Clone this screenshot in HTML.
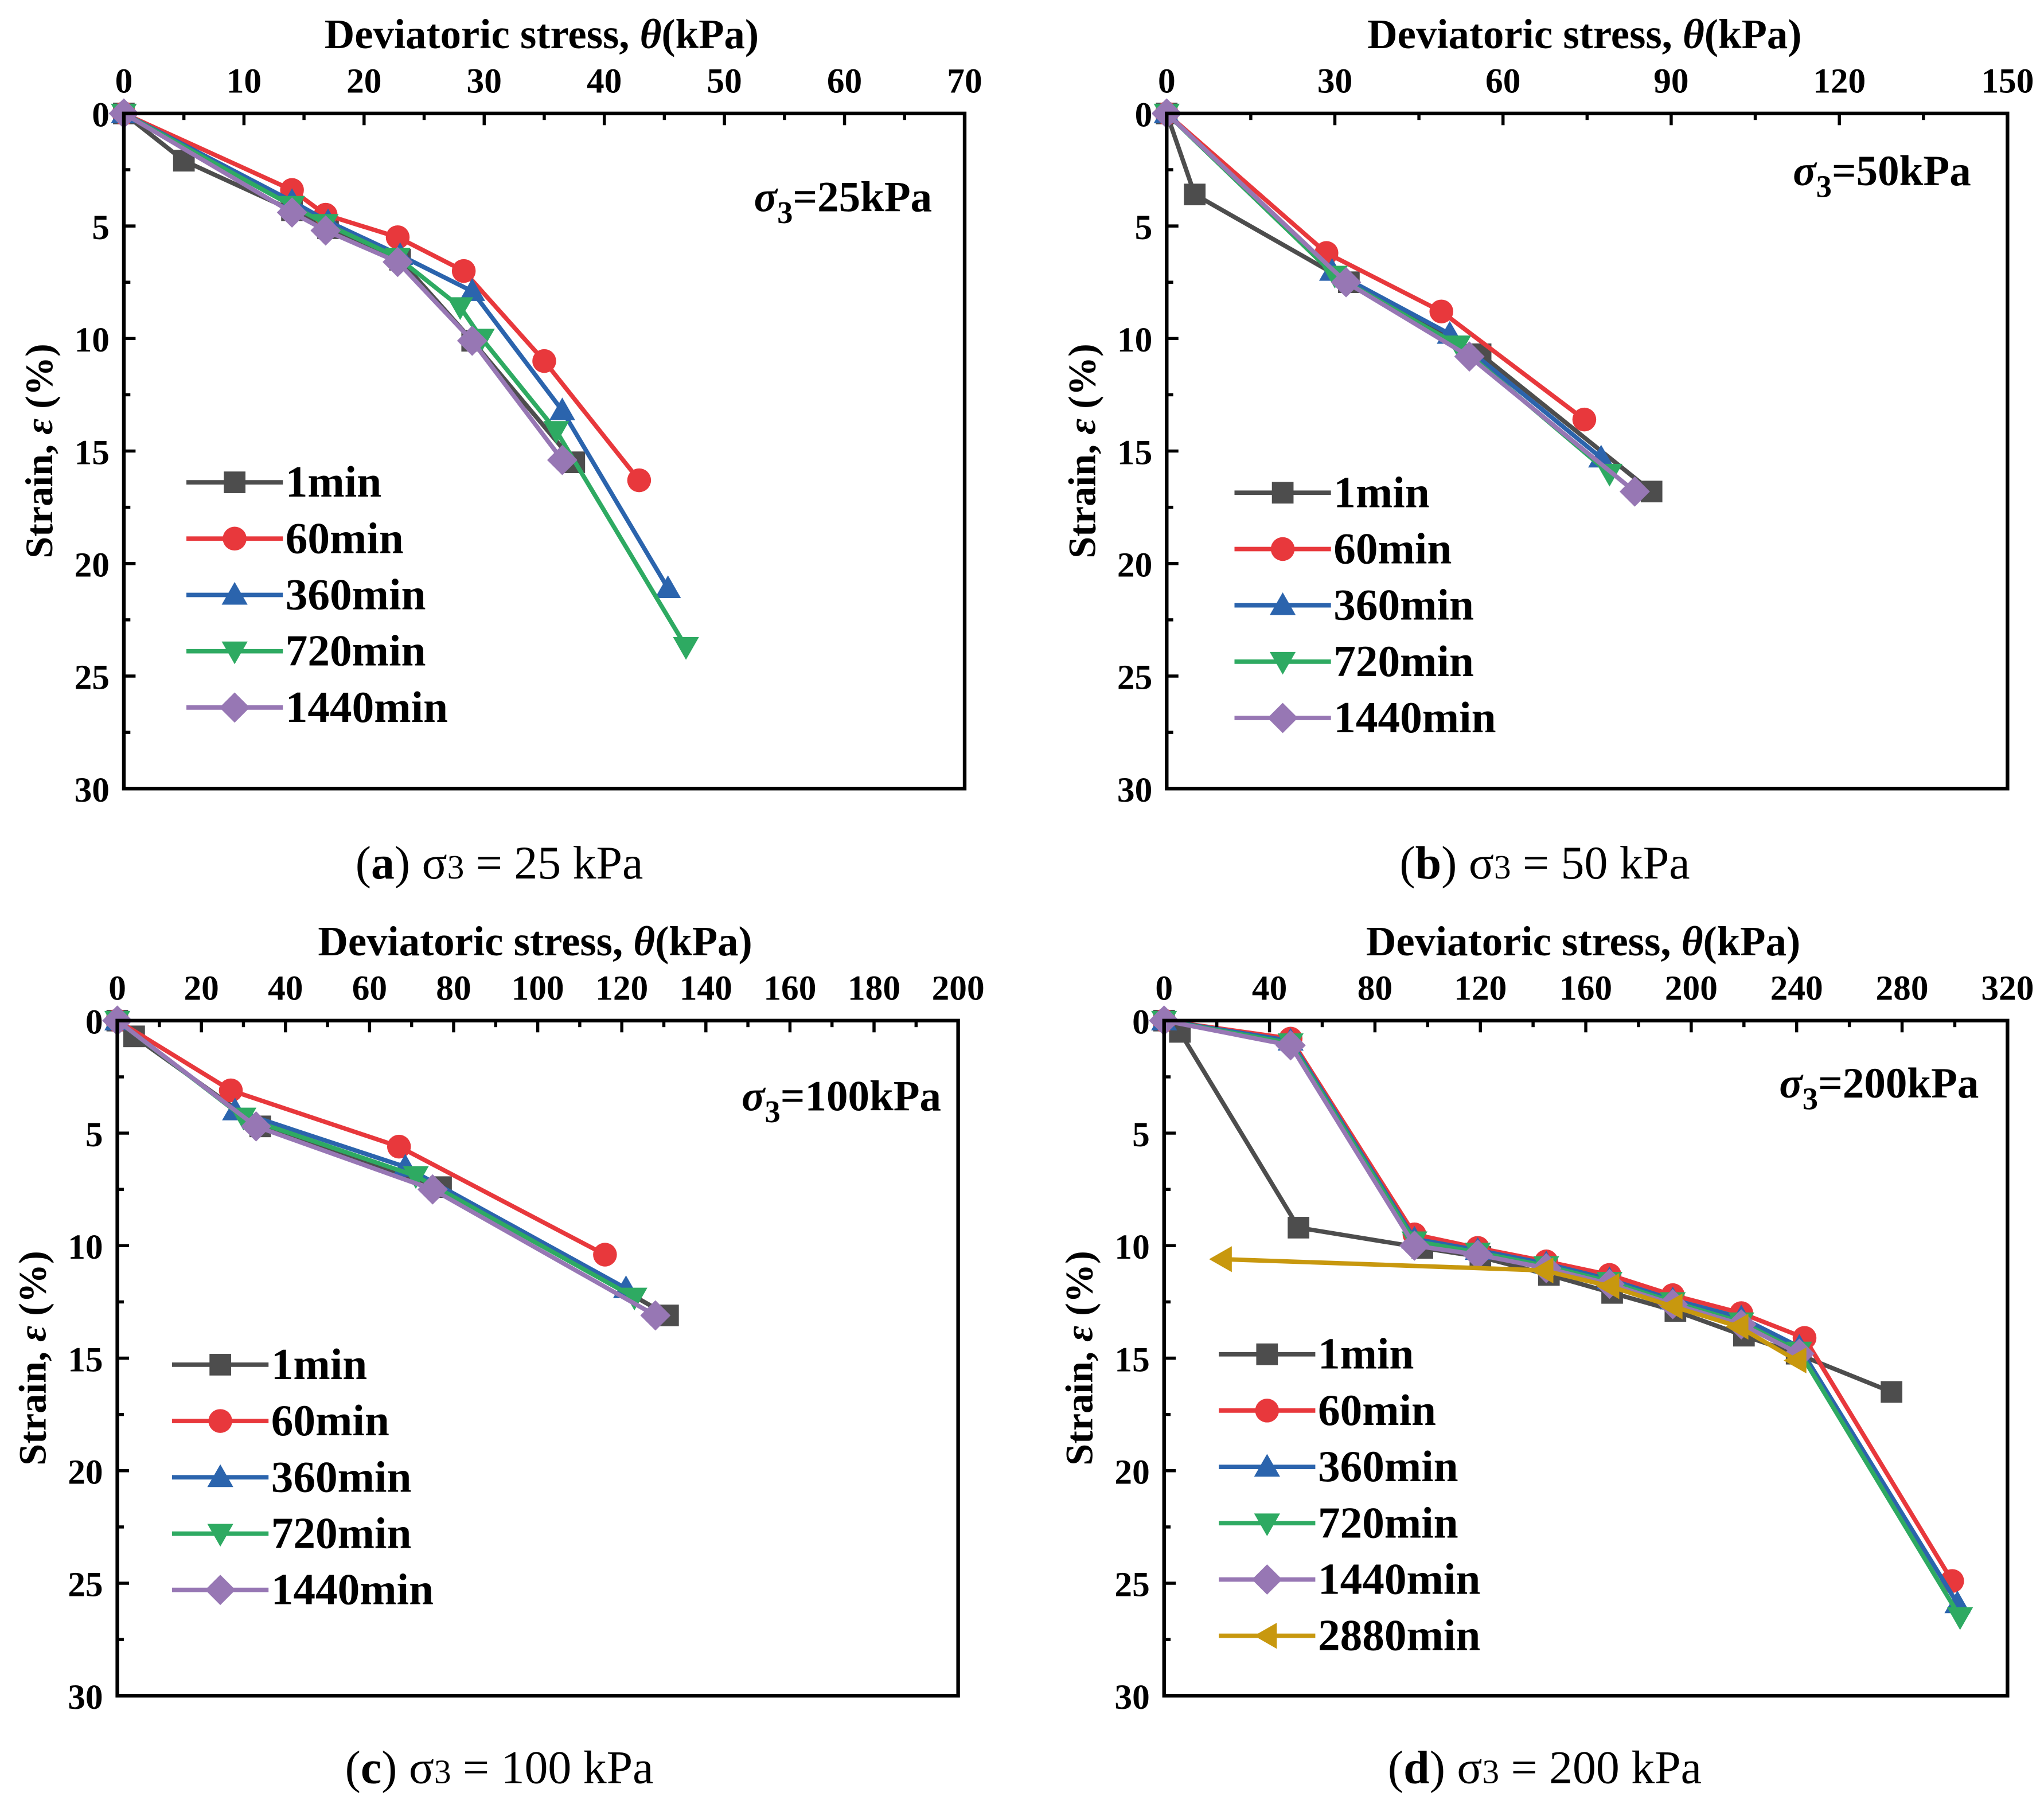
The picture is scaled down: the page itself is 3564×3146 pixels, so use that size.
<!DOCTYPE html>
<html><head><meta charset="utf-8"><style>
html,body{margin:0;padding:0;background:#fff}
svg{display:block}
text{font-family:"Liberation Serif",serif}
</style></head><body>
<svg id="fig" width="3564" height="3146" viewBox="0 0 1568 1384" xmlns="http://www.w3.org/2000/svg">
<rect width="1568" height="1384" fill="#fff"/>
</svg>
<script>
// ---- data ----
const seriesNames = ["1min","60min","360min","720min","1440min","2880min"];
const seriesColors = ["#4d4d4d","#e8383c","#2b64ad","#2eaa62","#9777b4","#c8980e"];
const seriesMarkers = ["square","circle","up","down","diamond","left"];

// panel a (sigma3 = 25 kPa)
const aStress1 = [0,5,14,17,23,29,37.5];
const aStrain1 = [0,2.1,4.3,5.1,6.5,10.1,15.5];
const aStress60 = [0,14,16.8,22.8,28.3,35,42.9];
const aStrain60 = [0,3.4,4.5,5.5,7,11,16.3];
const aStress360 = [0,14,17,23,29,36.5,45.3];
const aStrain360 = [0,3.9,4.8,6.3,7.9,13.2,21.1];
const aStress720 = [0,14,16.8,22.8,28,29.8,36,46.8];
const aStrain720 = [0,4.1,4.9,6.4,8.6,10,14.1,23.7];
const aStress1440 = [0,14,16.8,22.8,29,36.5];
const aStrain1440 = [0,4.4,5.2,6.6,10.1,15.4];

// panel b (sigma3 = 50 kPa)
const bStress1 = [0,5,32.5,56,86.5];
const bStrain1 = [0,3.6,7.5,10.7,16.8];
const bStress60 = [0,28.5,49,74.5];
const bStrain60 = [0,6.2,8.8,13.6];
const bStress360 = [0,29.5,50.5,77.5];
const bStrain360 = [0,7,9.8,15.3];
const bStress720 = [0,30,52,79];
const bStrain720 = [0,7.2,10.3,16];
const bStress1440 = [0,32,54,83.5];
const bStrain1440 = [0,7.5,10.8,16.8];

// panel c (sigma3 = 100 kPa)
const cStress1 = [0,4,34,77,131];
const cStrain1 = [0,0.7,4.7,7.4,13.1];
const cStress60 = [0,27,67,116];
const cStrain60 = [0,3.1,5.6,10.4];
const cStress360 = [0,28,68.5,121];
const cStrain360 = [0,4,6.5,11.9];
const cStress720 = [0,30,71,123];
const cStrain720 = [0,4.3,6.9,12.3];
const cStress1440 = [0,33,75,128];
const cStrain1440 = [0,4.7,7.5,13.1];

// panel d (sigma3 = 200 kPa)
const dStress1 = [0,6,51,98,120,146,170,194,220,240,276];
const dStrain1 = [0,0.5,9.2,10.1,10.5,11.3,12.1,12.9,14,14.8,16.5];
const dStress60 = [0,48,95,119,145,169,193,219,243,299];
const dStrain60 = [0,0.8,9.5,10.1,10.7,11.3,12.2,13,14.1,24.9];
const dStress360 = [0,48,95,119,145,169,193,219,241,301];
const dStrain360 = [0,0.9,9.7,10.2,10.8,11.5,12.4,13.2,14.5,25.9];
const dStress720 = [0,48,95,119,145,169,193,219,241,302];
const dStrain720 = [0,1,9.8,10.3,10.9,11.6,12.5,13.4,14.7,26.5];
const dStress1440 = [0,48,95,119,145,169,193,219,241];
const dStrain1440 = [0,1.1,10,10.4,11,11.7,12.6,13.5,14.8];
const dStress2880 = [22,144,169,193,218,240];
const dStrain2880 = [10.6,11.1,11.8,12.7,13.6,15.1];

const yTicks = [0,5,10,15,20,25,30];
const aXTicks = [0,10,20,30,40,50,60,70];
const bXTicks = [0,30,60,90,120,150];
const cXTicks = [0,20,40,60,80,100,120,140,160,180,200];
const dXTicks = [0,40,80,120,160,200,240,280,320];

// ---- drawing ----
const NS="http://www.w3.org/2000/svg";
const svg=document.getElementById('fig');
function mk(tag,attrs,parent){const e=document.createElementNS(NS,tag);for(const k in attrs)e.setAttribute(k,attrs[k]);(parent||svg).appendChild(e);return e;}

function marker(g,type,x,y,color,s){
  let e;
  if(type==="square"){e=mk('rect',{x:x-s,y:y-s,width:2*s,height:2*s,fill:color},g);}
  else if(type==="circle"){e=mk('circle',{cx:x,cy:y,r:s*1.1,fill:color},g);}
  else if(type==="up"){e=mk('polygon',{points:`${x},${y-s*1.2} ${x-s*1.2},${y+s*0.9} ${x+s*1.2},${y+s*0.9}`,fill:color},g);}
  else if(type==="down"){e=mk('polygon',{points:`${x},${y+s*1.2} ${x-s*1.2},${y-s*0.9} ${x+s*1.2},${y-s*0.9}`,fill:color},g);}
  else if(type==="diamond"){e=mk('polygon',{points:`${x},${y-s*1.4} ${x+s*1.4},${y} ${x},${y+s*1.4} ${x-s*1.4},${y}`,fill:color},g);}
  else {e=mk('polygon',{points:`${x-s*1.2},${y} ${x+s*0.9},${y-s*1.2} ${x+s*0.9},${y+s*1.2}`,fill:color},g);}
  
  
  return e;
}

function panel(cfg){
  const g=mk('g',{});
  
  
  const {x0,x1,y0,y1,xmax,xTicks}=cfg;
  const sx=v=>x0+(v/xmax)*(x1-x0);
  const sy=v=>y0+(v/30)*(y1-y0);
  cfg.series.forEach((s,i)=>{
    const idx=s.idx;
    const pts=s.xs.map((v,j)=>sx(v)+','+sy(s.ys[j])).join(' ');
    const pl=mk('polyline',{points:pts,fill:'none',stroke:seriesColors[idx],'stroke-width':3.4,'stroke-linejoin':'round'},g);
    
    
    s.xs.forEach((v,j)=>marker(g,seriesMarkers[idx],sx(v),sy(s.ys[j]),seriesColors[idx],8.3));
  });
  const fr=mk('rect',{x:x0,y:y0,width:x1-x0,height:y1-y0,fill:'none',stroke:'#000','stroke-width':2.8},g);
  
  
  const step=xTicks[1]-xTicks[0];
  xTicks.forEach((t,i)=>{
    mk('line',{x1:sx(t),y1:y0,x2:sx(t),y2:y0+9,stroke:'#000','stroke-width':2.4},g);
    if(i<xTicks.length-1){const m=t+step/2;mk('line',{x1:sx(m),y1:y0,x2:sx(m),y2:y0+5,stroke:'#000','stroke-width':2.4},g);}
    const tx=mk('text',{x:sx(t),y:y0-16,'text-anchor':'middle','font-size':27,'font-weight':'bold'},g);
    tx.textContent=t;
    
    
  });
  yTicks.forEach((t,i)=>{
    mk('line',{x1:x0,y1:sy(t),x2:x0+9,y2:sy(t),stroke:'#000','stroke-width':2.4},g);
    if(i<yTicks.length-1){const m=t+2.5;mk('line',{x1:x0,y1:sy(m),x2:x0+5,y2:sy(m),stroke:'#000','stroke-width':2.4},g);}
    const ty=mk('text',{x:x0-11,y:sy(t)+10,'text-anchor':'end','font-size':27,'font-weight':'bold'},g);
    ty.textContent=t;
    
    
  });
  const xt=mk('text',{x:(x0+x1)/2-2,y:y0-50,'text-anchor':'middle','font-size':32,'font-weight':'bold'},g);
  xt.innerHTML='Deviatoric stress, <tspan font-style="italic">θ</tspan>(kPa)';
  
  
  const yc=(y0+y1)/2;
  const yt=mk('text',{x:0,y:0,'text-anchor':'middle','font-size':30,'font-weight':'bold',transform:`translate(${x0-55},${yc}) rotate(-90)`},g);
  yt.innerHTML='Strain, <tspan font-style="italic">ε</tspan> (%)';
  
  
  const an=mk('text',{x:cfg.annX,y:cfg.annY,'text-anchor':'end','font-size':33,'font-weight':'bold'},g);
  an.innerHTML='<tspan font-style="italic">σ</tspan><tspan font-size="24" dy="9">3</tspan><tspan dy="-9">='+cfg.ann+'</tspan>';
  
  
  const lg=mk('g',{},g);
  
  
  cfg.series.forEach((s,i)=>{
    const y=cfg.legY+i*43.2, idx=s.idx;
    const e=mk('g',{},lg);
    
    
    mk('line',{x1:cfg.legX,y1:y,x2:cfg.legX+74,y2:y,stroke:seriesColors[idx],'stroke-width':3.4},e);
    marker(e,seriesMarkers[idx],cfg.legX+37,y,seriesColors[idx],8.3);
    const t=mk('text',{x:cfg.legX+76,y:y+11,'font-size':34,'font-weight':'bold'},e);
    t.textContent=seriesNames[idx];
  });
  const cp=mk('text',{x:cfg.capX,y:cfg.capY,'text-anchor':'middle','font-size':36},g);
  cp.innerHTML='(<tspan font-weight="bold">'+cfg.cap+'</tspan>) σ<tspan font-size="26">3</tspan> = '+cfg.ann.replace('kPa',' kPa');
  
  
}

panel({id:'panel-a',x0:95,x1:740,y0:87,y1:605,xmax:70,xTicks:aXTicks,ann:'25kPa',annX:715,annY:162,legX:143,legY:370,cap:'a',capX:383,capY:674,
  series:[{idx:0,xs:aStress1,ys:aStrain1},{idx:1,xs:aStress60,ys:aStrain60},{idx:2,xs:aStress360,ys:aStrain360},{idx:3,xs:aStress720,ys:aStrain720},{idx:4,xs:aStress1440,ys:aStrain1440}]});
panel({id:'panel-b',x0:895,x1:1540,y0:87,y1:605,xmax:150,xTicks:bXTicks,ann:'50kPa',annX:1512,annY:142,legX:947,legY:378,cap:'b',capX:1185,capY:674,
  series:[{idx:0,xs:bStress1,ys:bStrain1},{idx:1,xs:bStress60,ys:bStrain60},{idx:2,xs:bStress360,ys:bStrain360},{idx:3,xs:bStress720,ys:bStrain720},{idx:4,xs:bStress1440,ys:bStrain1440}]});
panel({id:'panel-c',x0:90,x1:735,y0:783,y1:1301,xmax:200,xTicks:cXTicks,ann:'100kPa',annX:722,annY:852,legX:132,legY:1047,cap:'c',capX:383,capY:1368,
  series:[{idx:0,xs:cStress1,ys:cStrain1},{idx:1,xs:cStress60,ys:cStrain60},{idx:2,xs:cStress360,ys:cStrain360},{idx:3,xs:cStress720,ys:cStrain720},{idx:4,xs:cStress1440,ys:cStrain1440}]});
panel({id:'panel-d',x0:893,x1:1540,y0:783,y1:1301,xmax:320,xTicks:dXTicks,ann:'200kPa',annX:1518,annY:842,legX:935,legY:1039,cap:'d',capX:1185,capY:1368,
  series:[{idx:0,xs:dStress1,ys:dStrain1},{idx:1,xs:dStress60,ys:dStrain60},{idx:2,xs:dStress360,ys:dStrain360},{idx:3,xs:dStress720,ys:dStrain720},{idx:4,xs:dStress1440,ys:dStrain1440},{idx:5,xs:dStress2880,ys:dStrain2880}]});
</script>
</body></html>
